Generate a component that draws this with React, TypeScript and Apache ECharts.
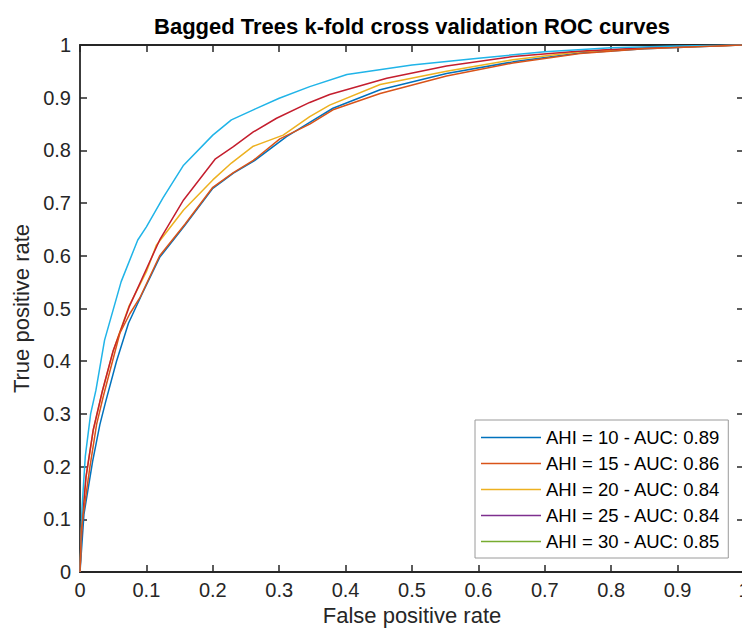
import React, { useEffect, useRef } from "react";
import * as echarts from "echarts";

const TITLE = "Bagged Trees k-fold cross validation ROC curves";
const X_LABEL = "False positive rate";
const Y_LABEL = "True positive rate";

const LEGEND_NAMES = [
  "AHI = 10 - AUC: 0.89",
  "AHI = 15 - AUC: 0.86",
  "AHI = 20 - AUC: 0.84",
  "AHI = 25 - AUC: 0.84",
  "AHI = 30 - AUC: 0.85",
];

// visible curves, [FPR, TPR]
const blueCurve: number[][] = [
  [0, 0], [0.006, 0.11], [0.019, 0.21], [0.03, 0.28], [0.038, 0.32], [0.055, 0.4],
  [0.073, 0.472], [0.094, 0.529], [0.12, 0.597], [0.158, 0.658], [0.2, 0.728],
  [0.231, 0.757], [0.261, 0.779], [0.311, 0.826], [0.346, 0.853], [0.381, 0.88],
  [0.452, 0.915], [0.552, 0.946], [0.652, 0.968], [0.753, 0.985], [0.85, 0.993], [1, 1],
];
const orangeCurve: number[][] = [
  [0, 0], [0.002, 0.08], [0.005, 0.11], [0.015, 0.2], [0.025, 0.28], [0.035, 0.333],
  [0.06, 0.453], [0.075, 0.49], [0.09, 0.52], [0.12, 0.6], [0.158, 0.66], [0.2, 0.73],
  [0.231, 0.758], [0.261, 0.781], [0.301, 0.822], [0.346, 0.85], [0.381, 0.877],
  [0.452, 0.908], [0.552, 0.941], [0.652, 0.966], [0.753, 0.984], [0.85, 0.993], [1, 1],
];
const yellowCurve: number[][] = [
  [0, 0], [0.003, 0.1], [0.009, 0.18], [0.02, 0.27], [0.034, 0.345], [0.05, 0.42],
  [0.074, 0.505], [0.1, 0.57], [0.115, 0.62], [0.156, 0.687], [0.2, 0.744],
  [0.228, 0.776], [0.261, 0.808], [0.306, 0.829], [0.346, 0.864], [0.376, 0.886],
  [0.452, 0.925], [0.552, 0.95], [0.652, 0.972], [0.753, 0.987], [0.85, 0.994], [1, 1],
];
const redCurve: number[][] = [
  [0, 0], [0.003, 0.09], [0.009, 0.18], [0.02, 0.27], [0.034, 0.345], [0.05, 0.42],
  [0.074, 0.503], [0.1, 0.575], [0.12, 0.63], [0.156, 0.706], [0.204, 0.784],
  [0.231, 0.807], [0.261, 0.835], [0.296, 0.861], [0.346, 0.891], [0.376, 0.906],
  [0.462, 0.937], [0.552, 0.96], [0.652, 0.978], [0.75, 0.988], [0.85, 0.995], [1, 1],
];
const cyanCurve: number[][] = [
  [0, 0], [0.003, 0.12], [0.008, 0.22], [0.016, 0.3], [0.024, 0.345], [0.037, 0.44],
  [0.062, 0.551], [0.087, 0.63], [0.1, 0.655], [0.125, 0.71], [0.156, 0.772],
  [0.2, 0.829], [0.228, 0.858], [0.261, 0.877], [0.3, 0.899], [0.346, 0.921],
  [0.402, 0.944], [0.5, 0.962], [0.6, 0.975], [0.7, 0.987], [0.8, 0.995], [0.9, 0.998], [1, 1],
];

const FONT = "Liberation Sans, Arial, Helvetica, sans-serif";
const AX = "#262626";

export default function App() {
  const ref = useRef<HTMLDivElement>(null);
  useEffect(() => {
    if (!ref.current) return;
    const chart = echarts.init(ref.current, null, { renderer: "svg" });
    const line = (name: string, color: string, data: number[][], z: number) => ({
      name,
      type: "line",
      data,
      symbol: "none",
      showSymbol: false,
      z,
      lineStyle: { color, width: 1.5 },
      itemStyle: { color },
      emphasis: { disabled: true },
    });
    const axisCommon = {
      type: "value",
      min: 0,
      max: 1,
      interval: 0.1,
      splitLine: { show: false },
      axisLine: { show: true, onZero: false, lineStyle: { color: AX, width: 1.8 } },
      axisTick: { show: true, inside: true, length: 7, lineStyle: { color: AX, width: 1.5 } },
    };
    chart.setOption({
      animation: false,
      grid: { left: 80, top: 45, width: 664, height: 527 },
      graphic: [
        {
          type: "text",
          x: 412,
          y: 26,
          style: {
            text: TITLE,
            font: `bold 22px ${FONT}`,
            fill: "#000",
            textAlign: "center",
            textVerticalAlign: "middle",
          },
        },
      ],
      legend: {
        data: LEGEND_NAMES,
        orient: "vertical",
        left: 475,
        top: 420,
        icon: "rect",
        itemWidth: 60,
        itemHeight: 1.5,
        itemGap: 7,
        padding: [8, 8, 7, 6],
        borderColor: "#9a9a9a",
        borderWidth: 1,
        backgroundColor: "#fff",
        textStyle: { fontFamily: FONT, fontSize: 18.5, color: "#000", lineHeight: 18 },
        selectedMode: false,
      },
      xAxis: [
        {
          ...axisCommon,
          position: "bottom",
          name: X_LABEL,
          nameLocation: "middle",
          nameGap: 31,
          nameTextStyle: { fontFamily: FONT, fontSize: 22, color: AX },
          axisLabel: { fontFamily: FONT, fontSize: 20, color: AX, margin: 8 },
        },
        {
          ...axisCommon,
          position: "top",
          axisLabel: { show: false },
        },
      ],
      yAxis: [
        {
          ...axisCommon,
          position: "left",
          name: Y_LABEL,
          nameLocation: "middle",
          nameGap: 48,
          nameTextStyle: { fontFamily: FONT, fontSize: 22, color: AX },
          axisLabel: { fontFamily: FONT, fontSize: 20, color: AX, margin: 9 },
        },
        {
          ...axisCommon,
          position: "right",
          axisLabel: { show: false },
        },
      ],
      series: [
        line(LEGEND_NAMES[3], "#7E2F8E", [], 1),
        line(LEGEND_NAMES[4], "#77AC30", [], 1),
        line(LEGEND_NAMES[0], "#0072BD", blueCurve, 2),
        line(LEGEND_NAMES[2], "#EDB120", yellowCurve, 3),
        line("Fold 7", "#C41E2E", redCurve, 4),
        line("Fold 6", "#20B4E8", cyanCurve, 5),
        line(LEGEND_NAMES[1], "#D95319", orangeCurve, 6),
      ],
    });
    return () => chart.dispose();
  }, []);
  return (
    <div
      style={{ position: "absolute", left: 0, top: 0, width: 742, height: 632, overflow: "hidden", background: "#fff" }}
    >
      <div ref={ref} style={{ width: 780, height: 632 }} />
    </div>
  );
}
